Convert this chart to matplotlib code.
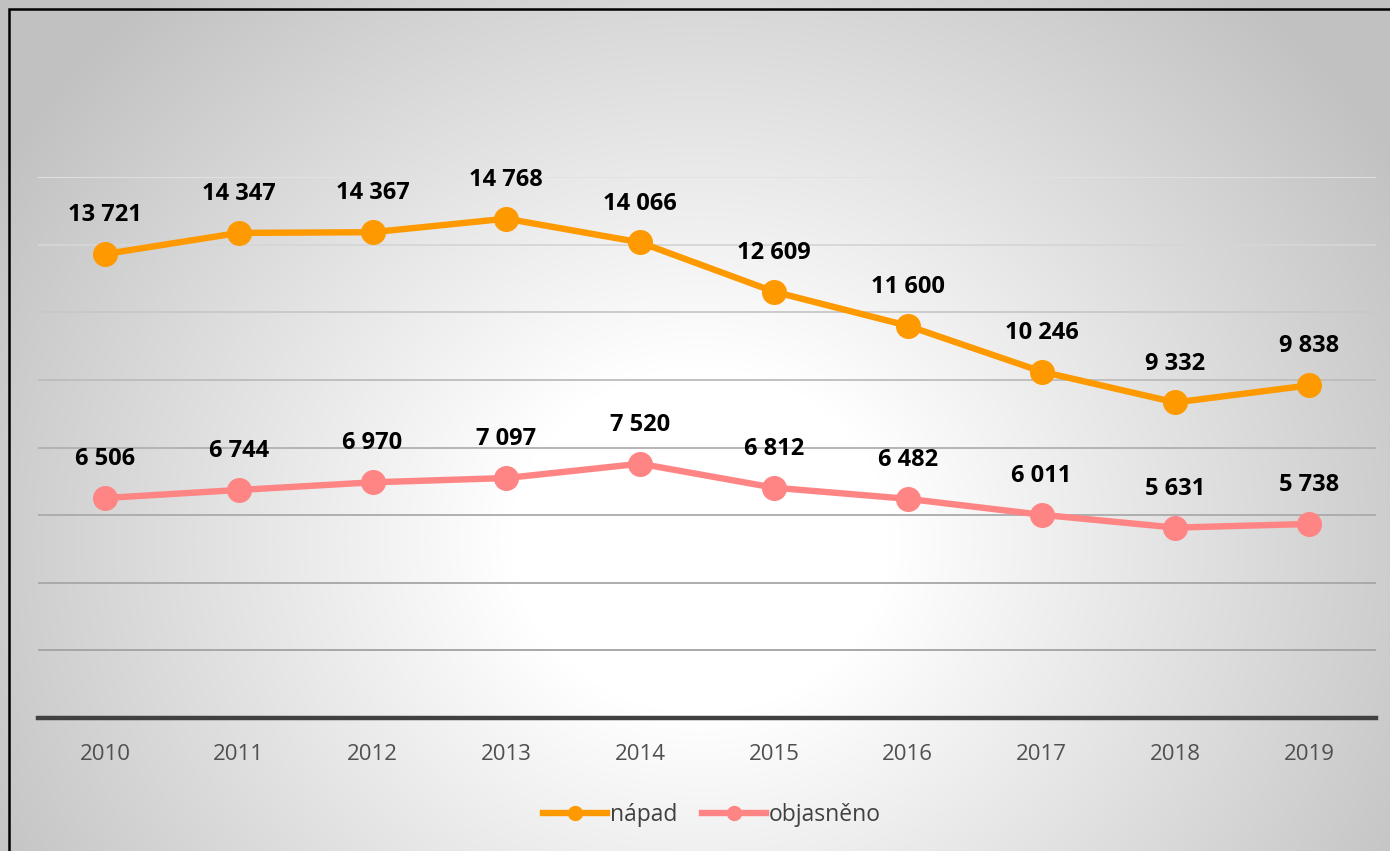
import numpy as np
import matplotlib
matplotlib.use("Agg")
import matplotlib.pyplot as plt
from matplotlib.patches import Rectangle
from matplotlib.lines import Line2D

years = ["2010", "2011", "2012", "2013", "2014", "2015", "2016", "2017", "2018", "2019"]
napad = [13721, 14347, 14367, 14768, 14066, 12609, 11600, 10246, 9332, 9838]
objasneno = [6506, 6744, 6970, 7097, 7520, 6812, 6482, 6011, 5631, 5738]
series_names = ["nápad", "objasněno"]

FONT = "Open Sans"
W, H = 1390, 851
fig = plt.figure(figsize=(W / 100, H / 100), dpi=100)

# radial gradient background
bg = fig.add_axes([0, 0, 1, 1], zorder=0)
yy, xx = np.mgrid[0:H, 0:W]
cx, cy = 700, 540
r = np.sqrt((xx - cx) ** 2 + ((yy - cy) * 1.1) ** 2)
t = np.clip((r - 190) / 620, 0, 1)
val = 1.0 - t * (1.0 - 0.76)
bg.imshow(np.dstack([val, val, val]), extent=[0, W, H, 0], aspect="auto", interpolation="bilinear")
bg.set_xlim(0, W)
bg.set_ylim(H, 0)
bg.axis("off")

# frame
fig.add_artist(Rectangle((8.5 / W, -0.1), 1.2, (H - 9.5) / H + 0.1, transform=fig.transFigure,
                         fill=False, edgecolor="black", linewidth=1.8, zorder=1))

ax = fig.add_axes([38 / W, (H - 718) / H, (1376 - 38) / W, (718 - 177) / H], zorder=2)
ax.patch.set_alpha(0)
x = np.arange(len(years))
ax.set_xlim(-0.5, len(years) - 0.5)
ax.set_ylim(0, 16000)
ax.set_yticks(np.arange(0, 16001, 2000))
ax.yaxis.grid(True, linewidth=1.3)
grid_cols = ["#a0a0a0", "#a2a2a2", "#a6a6a6", "#aaaaaa", "#b0b0b0", "#bcbcbc", "#c8c8c8", "#d6d6d6", "#e2e2e2"]
for gl, c in zip(ax.get_ygridlines(), grid_cols):
    gl.set_color(c)
ax.set_axisbelow(True)
ax.tick_params(axis="y", left=False, labelleft=False)
ax.tick_params(axis="x", bottom=False, pad=15, labelsize=16, labelcolor="#505050")
ax.set_xticks(x)
ax.set_xticklabels(years, fontfamily=FONT)
for s in ["top", "right", "left"]:
    ax.spines[s].set_visible(False)
ax.spines["bottom"].set_color("#404040")
ax.spines["bottom"].set_linewidth(3.2)
ax.spines["bottom"].set_zorder(1)

colors = ["#ff9900", "#ff8585"]
for vals, col, name in zip([napad, objasneno], colors, series_names):
    ax.plot(x, vals, color=col, linewidth=4.6, marker="o", markersize=17, label=name,
            solid_capstyle="round", zorder=3, clip_on=False)
    for xi, v in zip(x, vals):
        s = f"{v:,}".replace(",", " ")
        ax.annotate(s, (xi, v), xytext=(0, 28), textcoords="offset points", ha="center", va="center",
                    fontsize=17, fontweight="bold", fontfamily=FONT, color="black", zorder=4,
                    annotation_clip=False)

handles = [Line2D([0], [0], color=c, linewidth=4.6, marker="o", markersize=10) for c in colors]
leg = fig.legend(handles, series_names, loc="center", bbox_to_anchor=(712 / W, 1 - 815 / H), ncol=2,
                 frameon=False, prop={"family": FONT, "size": 16.5}, handlelength=2.8,
                 handletextpad=0.1, columnspacing=1.1)
for t_ in leg.get_texts():
    t_.set_color("#404040")

fig.savefig("out.png", dpi=100)
